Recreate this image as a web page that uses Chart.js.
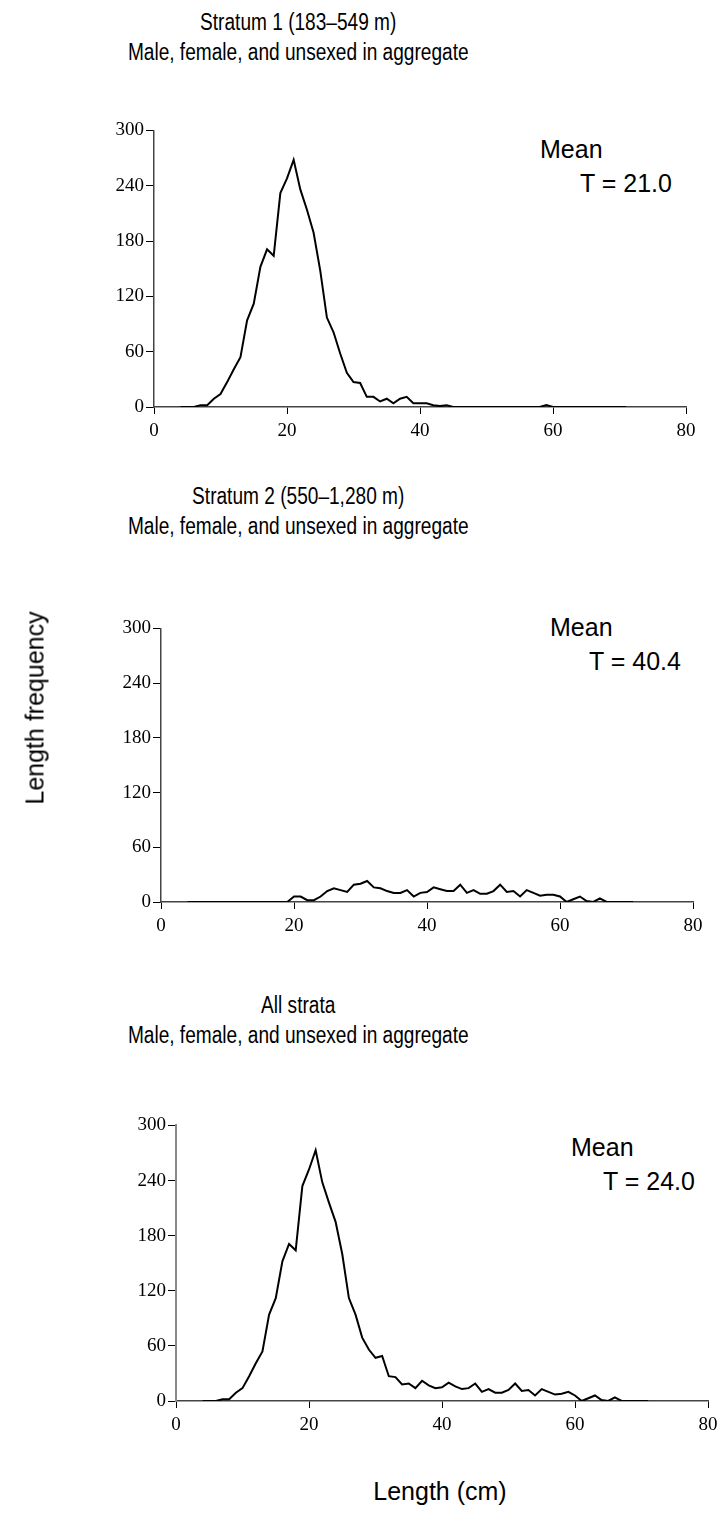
<!DOCTYPE html>
<html>
<head>
<meta charset="utf-8">
<script src="https://cdn.jsdelivr.net/npm/chart.js@4.4.1/dist/chart.umd.min.js"></script>
<style>
  body { margin: 0; background: #fff; }
  #page { position: relative; width: 728px; height: 1526px; overflow: hidden; font-family: "Liberation Sans", Arial, sans-serif; color: #000; }
  .plot { position: absolute; left: 0; }
  .title { position: absolute; left: 0; width: 596px; text-align: center; font-size: 23px; line-height: 30px; white-space: nowrap; }
  .title span { display: inline-block; transform: scaleX(0.83); }
  .mean { position: absolute; font-size: 25px; line-height: 34px; white-space: nowrap; }
  .mean span { display: block; }
  #ylab { position: absolute; left: 35px; top: 708px; transform: translate(-50%, -50%) rotate(-90deg); font-size: 25px; white-space: nowrap; }
  #xlab { position: absolute; left: 0; width: 728px; padding-left: 152px; box-sizing: border-box; text-align: center; top: 1477px; font-size: 25px; }
</style>
</head>
<body>
<div id="page">
  <div class="title" style="top:7px"><span>Stratum 1 (183–549 m)<br>Male, female, and unsexed in aggregate</span></div>
  <div class="mean" style="left:540px;top:132px">Mean<span style="padding-left:40px">T = 21.0</span></div>
  <canvas id="c1" class="plot"></canvas>

  <div class="title" style="top:481px"><span>Stratum 2 (550–1,280 m)<br>Male, female, and unsexed in aggregate</span></div>
  <div class="mean" style="left:550px;top:610px">Mean<span style="padding-left:39px">T = 40.4</span></div>
  <canvas id="c2" class="plot"></canvas>

  <div class="title" style="top:990px"><span>All strata<br>Male, female, and unsexed in aggregate</span></div>
  <div class="mean" style="left:571px;top:1130px">Mean<span style="padding-left:32px">T = 24.0</span></div>
  <canvas id="c3" class="plot"></canvas>

  <div id="ylab">Length frequency</div>
  <div id="xlab">Length (cm)</div>
</div>
<script>
// length classes (cm), 4 to 71
const lengths = [4,5,6,7,8,9,10,11,12,13,14,15,16,17,18,19,20,21,22,23,24,25,26,27,28,29,30,31,32,33,34,35,36,37,
  38,39,40,41,42,43,44,45,46,47,48,49,50,51,52,53,54,55,56,57,58,59,60,61,62,63,64,65,66,67,68,69,70,71];

const stratum1 = [0,0,0,2,2,9,14,27,41,54,94,112,152,171,164,232,248,268,236,214,189,148,97,81,58,37,27,26,11,11,6,9,4,9,
  11,4,4,4,2,1,2,0,0,0,0,0,0,0,0,0,0,0,0,0,0,2,0,0,0,0,0,0,0,0,0,0,0,0];

const stratum2 = [0,0,0,0,0,0,0,0,0,0,0,0,0,0,0,0,6,6,2,2,6,12,15,13,11,19,20,23,16,15,12,10,10,13,
  6,10,11,16,14,12,12,19,10,13,9,9,12,19,11,12,6,13,10,7,8,8,6,0,3,6,1,0,4,0,0,0,0,0];

const allStrata = [0,0,0,2,2,9,14,27,41,54,94,112,152,171,164,234,252,273,238,216,195,160,112,94,69,56,47,49,27,26,18,19,14,22,
  17,14,15,20,16,13,14,19,10,13,9,9,12,19,11,12,6,13,10,7,8,10,6,0,3,6,1,0,4,0,0,0,0,0];

const xTicks = [0, 20, 40, 60, 80];
const yTicks = [0, 60, 120, 180, 240, 300];

function makeChart(id, values, box, axisColor, axisWidth) {
  // box: plot area edges in page pixels
  const canvas = document.getElementById(id);
  const padTop = 12, axisH = 42, padRight = 20;
  const w = box.right + padRight;
  const h = box.bottom - box.top + padTop + axisH;
  canvas.style.top = (box.top - padTop) + 'px';
  canvas.style.width = w + 'px';
  canvas.style.height = h + 'px';
  canvas.width = w;
  canvas.height = h;

  const tickFont = { family: "'Liberation Serif', 'Times New Roman', serif", size: 19 };
  new Chart(canvas, {
    type: 'line',
    data: {
      datasets: [{
        data: lengths.map((x, i) => ({ x: x, y: values[i] })),
        borderColor: '#000',
        borderWidth: 2,
        pointRadius: 0,
        tension: 0,
        fill: false
      }]
    },
    options: {
      responsive: false,
      animation: false,
      layout: { padding: { top: padTop, right: padRight, left: 0, bottom: 0 } },
      plugins: { legend: { display: false }, tooltip: { enabled: false } },
      scales: {
        x: {
          type: 'linear', min: 0, max: 80,
          afterBuildTicks: s => { s.ticks = xTicks.map(v => ({ value: v })); },
          afterFit: s => { s.height = axisH; },
          grid: { drawOnChartArea: false, drawTicks: true, tickLength: 7, color: '#000', lineWidth: 1 },
          border: { display: true, color: '#444', width: 1.5 },
          ticks: { color: '#000', font: tickFont, padding: 6, maxRotation: 0 }
        },
        y: {
          min: 0, max: 300,
          afterBuildTicks: s => { s.ticks = yTicks.map(v => ({ value: v })); },
          afterFit: s => { s.width = box.left; },
          grid: { drawOnChartArea: false, drawTicks: true, tickLength: 8, color: '#000', lineWidth: 1 },
          border: { display: true, color: axisColor, width: axisWidth },
          ticks: { color: '#000', font: tickFont, padding: 2 }
        }
      }
    }
  });
}

makeChart('c1', stratum1, { left: 154, right: 686, top: 129, bottom: 407 }, '#444', 1.5);
makeChart('c2', stratum2, { left: 161, right: 693, top: 627, bottom: 902 }, '#444', 1.5);
makeChart('c3', allStrata, { left: 176, right: 708, top: 1124, bottom: 1401 }, '#888', 2);
</script>
</body>
</html>
